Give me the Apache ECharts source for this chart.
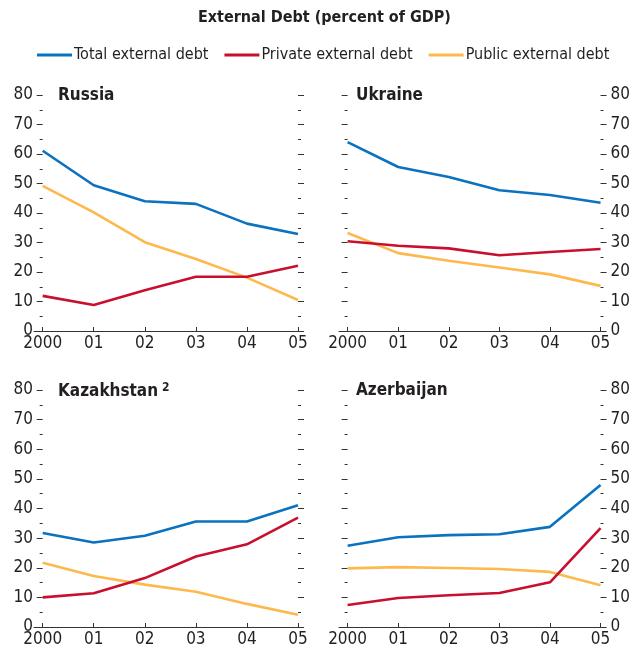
<!DOCTYPE html>
<html>
<head>
<meta charset="utf-8">
<script src="https://cdn.jsdelivr.net/npm/echarts@6/dist/echarts.min.js"></script>
<style>
  html, body { margin: 0; padding: 0; background: #fff; }
  #chart { width: 633px; height: 650px; }
</style>
</head>
<body>
<div id="chart"></div>
<script>
// Dette extérieure, 4 panneaux (Russie, Ukraine, Kazakhstan, Azerbaïdjan)
const years = ["2000", "01", "02", "03", "04", "05"];
const seriesNames = ["Total external debt", "Private external debt", "Public external debt"];
const colors = ["#0a72bf", "#c8102e", "#fdb94e"];

const russiaTotal = [61.1, 49.4, 44.0, 43.1, 36.4, 32.9];
const russiaPrivate = [11.9, 8.8, 13.8, 18.4, 18.4, 22.1];
const russiaPublic = [49.2, 40.2, 30.1, 24.4, 18.1, 10.5];

const ukraineTotal = [64.0, 55.6, 52.2, 47.7, 46.1, 43.5];
const ukrainePrivate = [30.4, 28.9, 28.0, 25.7, 26.8, 27.8];
const ukrainePublic = [33.2, 26.4, 23.8, 21.5, 19.2, 15.3];

const kazakhTotal = [31.7, 28.5, 30.8, 35.6, 35.6, 41.1];
const kazakhPrivate = [10.0, 11.4, 16.5, 23.8, 27.9, 36.9];
const kazakhPublic = [21.7, 17.2, 14.3, 11.9, 7.8, 4.1];

const azerTotal = [27.4, 30.3, 31.0, 31.3, 33.8, 47.9];
const azerPrivate = [7.4, 9.8, 10.7, 11.5, 15.1, 33.4];
const azerPublic = [19.8, 20.2, 19.9, 19.6, 18.6, 14.1];

const panels = [
  { titre: "Russia", valeurs: [russiaTotal, russiaPrivate, russiaPublic] },
  { titre: "Ukraine", valeurs: [ukraineTotal, ukrainePrivate, ukrainePublic] },
  { titre: "{a|Kazakhstan}{b|2}", valeurs: [kazakhTotal, kazakhPrivate, kazakhPublic] },
  { titre: "Azerbaijan", valeurs: [azerTotal, azerPrivate, azerPublic] },
];

const police = "'Liberation Sans Narrow', 'DejaVu Sans Condensed', 'Arial Narrow', sans-serif";
const encre = "#231f20";
const trait = "#333";

const grilles = [
  { left: 34, top: 95, width: 264, height: 236 },
  { left: 339, top: 95, width: 263, height: 236 },
  { left: 34, top: 390, width: 264, height: 237 },
  { left: 339, top: 390, width: 263, height: 237 },
];

const positions = years.map((_, i) => i);

const xAxes = grilles.map((_, g) => ({
  type: "value",
  gridIndex: g,
  min: -0.17,
  max: 5,
  axisLine: { show: true, lineStyle: { color: trait, width: 1 } },
  axisTick: { show: true, inside: true, length: 4, customValues: positions, lineStyle: { color: trait } },
  axisLabel: {
    customValues: positions,
    formatter: (v) => years[v],
    fontFamily: police, fontSize: 17, color: encre, margin: 4,
  },
  splitLine: { show: false },
}));

function axeY(g, cote, etiquettes) {
  return {
    type: "value",
    gridIndex: g,
    position: cote,
    offset: cote === "left" ? -8 : 0,
    min: 0, max: 80, interval: 10,
    axisLine: { show: false },
    axisTick: { show: true, length: 6, lineStyle: { color: trait } },
    minorTick: { show: true, splitNumber: 2, length: 3, lineStyle: { color: trait } },
    axisLabel: {
      show: etiquettes, fontFamily: police, fontSize: 17, color: encre,
      margin: cote === "left" ? 9 : 10,
    },
    splitLine: { show: false },
    minorSplitLine: { show: false },
  };
}

const yAxes = [];
grilles.forEach((_, g) => {
  const gauche = g % 2 === 0;
  yAxes.push(axeY(g, "left", gauche));
  yAxes.push(axeY(g, "right", !gauche));
});

const series = [];
panels.forEach((p, g) => {
  p.valeurs.forEach((vals, k) => {
    series.push({
      name: seriesNames[k],
      type: "line",
      xAxisIndex: g,
      yAxisIndex: 2 * g,
      data: vals.map((v, i) => [i, v]),
      symbol: "none",
      lineStyle: { width: 2.6, color: colors[k] },
      itemStyle: { color: colors[k] },
      z: 3 - k,
    });
  });
});

const titreStyle = { fontFamily: police, fontSize: 17, fontWeight: "bold", color: encre };
const titres = [
  {
    text: "External Debt (percent of GDP)", left: 198, top: 10, padding: 0,
    textStyle: Object.assign({}, titreStyle, { fontSize: 16 }),
  },
];
panels.forEach((p, g) => {
  const gr = grilles[g];
  titres.push({
    text: p.titre,
    left: g % 2 === 0 ? 58 : 356,
    top: gr.top - 8,
    padding: 0,
    textStyle: Object.assign({}, titreStyle, {
      rich: {
        a: { fontFamily: police, fontSize: 17, fontWeight: "bold", color: encre },
        b: { fontFamily: police, fontSize: 12, fontWeight: "bold", color: encre, padding: [0, 0, 8, 4] },
      },
    }),
  });
});

const chart = echarts.init(document.getElementById("chart"));
chart.setOption({
  animation: false,
  textStyle: { fontFamily: police, color: encre },
  title: titres,
  legend: {
    data: seriesNames,
    top: 47,
    left: 37,
    padding: 0,
    icon: "rect",
    itemWidth: 35,
    itemHeight: 3,
    itemGap: 16,
    textStyle: { fontFamily: police, fontSize: 16, color: encre, padding: [0, 0, 0, -3] },
  },
  grid: grilles,
  xAxis: xAxes,
  yAxis: yAxes,
  series: series,
});
</script>
</body>
</html>
